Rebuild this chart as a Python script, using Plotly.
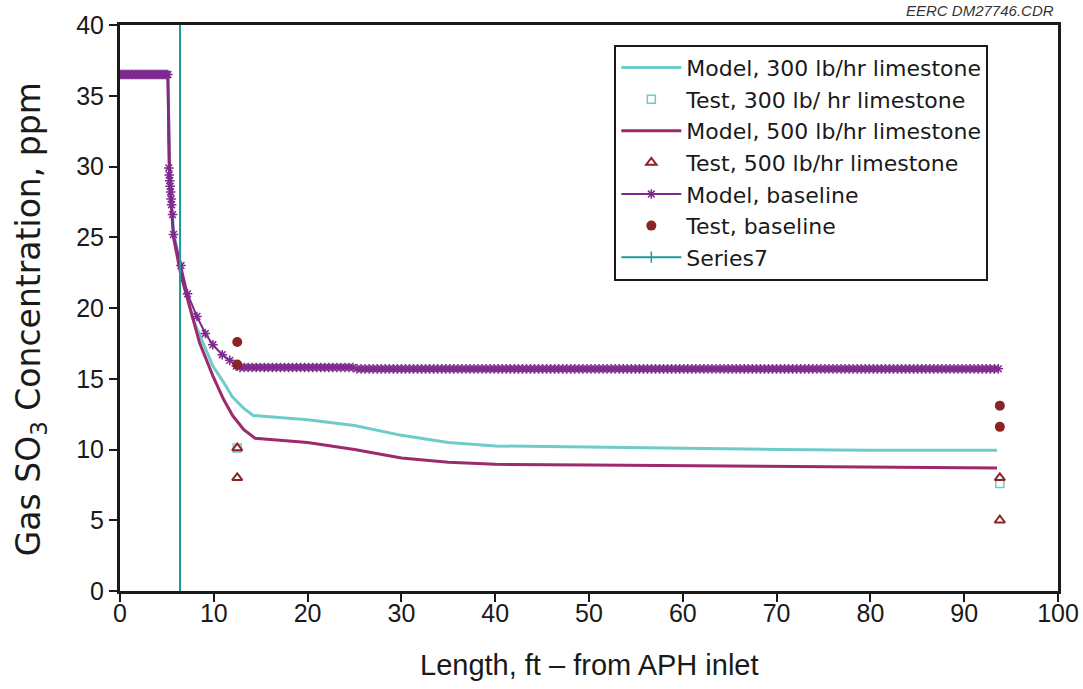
import numpy as np
import plotly.graph_objects as go

# ---- data ----
# Model, baseline (dense model nodes)
base_top_x = list(np.round(np.arange(0.0, 5.15, 0.15), 3))
base_top_y = [36.5] * len(base_top_x)
base_drop_x = [5.2, 5.25, 5.3, 5.35, 5.4, 5.45, 5.5, 5.6, 5.7, 6.5, 7.2, 8.2, 9.1, 9.9, 10.9, 11.7, 12.4]
base_drop_y = [29.9, 29.4, 29.0, 28.6, 28.2, 27.7, 27.3, 26.6, 25.2, 23.0, 21.0, 19.4, 18.2, 17.4, 16.7, 16.3, 15.9]
base_flat_x = list(np.round(np.arange(12.8, 94.0, 0.43), 2))
base_flat_y = [15.8 if x < 25 else 15.7 for x in base_flat_x]
base_x = base_top_x + base_drop_x + base_flat_x
base_y = base_top_y + base_drop_y + base_flat_y

# Model, 300 lb/hr limestone
m300_x = [0, 5.1, 5.3, 5.7, 6.5, 7.8, 9.0, 9.9, 11.0, 12.0, 13.2, 14.2, 20, 25, 30, 35, 40, 50, 60, 70, 80, 93.5]
m300_y = [36.5, 36.5, 29.5, 25.5, 22.6, 19.2, 17.3, 15.9, 14.8, 13.7, 12.9, 12.4, 12.1, 11.7, 11.0, 10.5, 10.25, 10.15, 10.05, 10.0, 9.95, 9.95]

# Model, 500 lb/hr limestone
m500_x = [0, 5.1, 5.3, 5.7, 6.5, 7.5, 8.5, 9.9, 11.0, 12.0, 13.2, 14.4, 20, 25, 30, 35, 40, 50, 60, 70, 80, 93.5]
m500_y = [36.5, 36.5, 29.0, 25.0, 22.3, 19.9, 17.5, 15.2, 13.6, 12.4, 11.4, 10.8, 10.5, 10.0, 9.4, 9.1, 8.95, 8.9, 8.85, 8.8, 8.75, 8.7]

# Tests
t300_x = [12.5, 93.8]
t300_y = [10.1, 7.6]
t500_x = [12.5, 12.5, 93.8, 93.8]
t500_y = [10.1, 8.0, 8.0, 5.0]
tbase_x = [12.5, 12.5, 93.8, 93.8]
tbase_y = [17.6, 16.0, 13.1, 11.6]

# Series7 (vertical reference)
s7_x = [6.4, 6.4]
s7_y = [0, 40]

x_ticks = list(range(0, 101, 10))
y_ticks = list(range(0, 41, 5))

TEAL = "#6fcaca"
MAGENTA = "#9c2a6c"
PURPLE = "#7e2a8e"
DRED = "#8b2525"
S7 = "#1f9a9a"
FONT = "Liberation Sans, Arial, sans-serif"
WIDE = "DejaVu Sans, sans-serif"
INK = "#1a1a1a"

fig = go.Figure()
fig.add_trace(go.Scatter(x=m300_x, y=m300_y, mode="lines", name="Model, 300 lb/hr limestone",
                         line=dict(color=TEAL, width=3)))
fig.add_trace(go.Scatter(x=t300_x, y=t300_y, mode="markers", name="Test, 300 lb/ hr limestone",
                         marker=dict(symbol="square-open", size=8, color=TEAL, line=dict(width=1.5))))
fig.add_trace(go.Scatter(x=m500_x, y=m500_y, mode="lines", name="Model, 500 lb/hr limestone",
                         line=dict(color=MAGENTA, width=3)))
fig.add_trace(go.Scatter(x=t500_x, y=t500_y, mode="markers", name="Test, 500 lb/hr limestone",
                         marker=dict(symbol="triangle-up-open", size=9, color=DRED, line=dict(width=2))))
fig.add_trace(go.Scatter(x=base_x, y=base_y, mode="lines+markers", name="Model, baseline",
                         line=dict(color=PURPLE, width=2),
                         marker=dict(symbol="asterisk-open", size=8, color=PURPLE, line=dict(width=1.5, color=PURPLE))))
fig.add_trace(go.Scatter(x=tbase_x, y=tbase_y, mode="markers", name="Test, baseline",
                         marker=dict(symbol="circle", size=10, color=DRED)))
fig.add_trace(go.Scatter(x=s7_x, y=s7_y, mode="lines+markers", name="Series7",
                         line=dict(color=S7, width=2),
                         marker=dict(symbol="line-ns-open", size=8, color=S7, line=dict(width=1.5, color=S7))))

fig.update_layout(
    width=1083, height=689,
    paper_bgcolor="white", plot_bgcolor="white",
    margin=dict(l=120, r=25, t=25, b=98, autoexpand=False),
    font=dict(family=FONT, size=25, color=INK),
    showlegend=True,
    legend=dict(x=0.527, y=0.965, xanchor="left", yanchor="top",
                bordercolor=INK, borderwidth=2, bgcolor="white",
                font=dict(size=22, family=WIDE, color=INK), tracegroupgap=0, itemwidth=60,
                entrywidth=330, entrywidthmode="pixels"),
    xaxis=dict(range=[0, 100], tickvals=x_ticks, ticks="outside", ticklen=8, tickwidth=2, tickcolor=INK,
               showline=True, linecolor=INK, linewidth=3, mirror=True, showgrid=False, zeroline=False,
               automargin=False, ticklabelstandoff=-10, tickfont=dict(size=25, family=FONT, color=INK)),
    yaxis=dict(range=[0, 40], tickvals=y_ticks, ticks="outside", ticklen=8, tickwidth=2, tickcolor=INK,
               showline=True, linecolor=INK, linewidth=3, mirror=True, showgrid=False, zeroline=False,
               automargin=False, tickfont=dict(size=25, family=FONT, color=INK)),
    annotations=[
        dict(text="<i>EERC DM27746.CDR</i>", x=1.0, y=1.0, xref="paper", yref="paper",
             xanchor="right", yanchor="bottom", showarrow=False, yshift=4, xshift=-2,
             font=dict(size=15, color="#333", family=FONT)),
        dict(text="Length, ft – from APH inlet", x=0.5, y=-0.131, xref="paper", yref="paper",
             xanchor="center", yanchor="middle", showarrow=False,
             font=dict(size=29, color=INK, family=FONT)),
        dict(text="Gas SO<sub>3</sub> Concentration, ppm", x=-0.096, y=0.48, xref="paper", yref="paper",
             xanchor="center", yanchor="middle", showarrow=False, textangle=-90,
             font=dict(size=33, color=INK, family=WIDE)),
    ],
)

fig.write_html("out.html", config={"displayModeBar": False},
               post_script="document.body.style.margin='0';")
